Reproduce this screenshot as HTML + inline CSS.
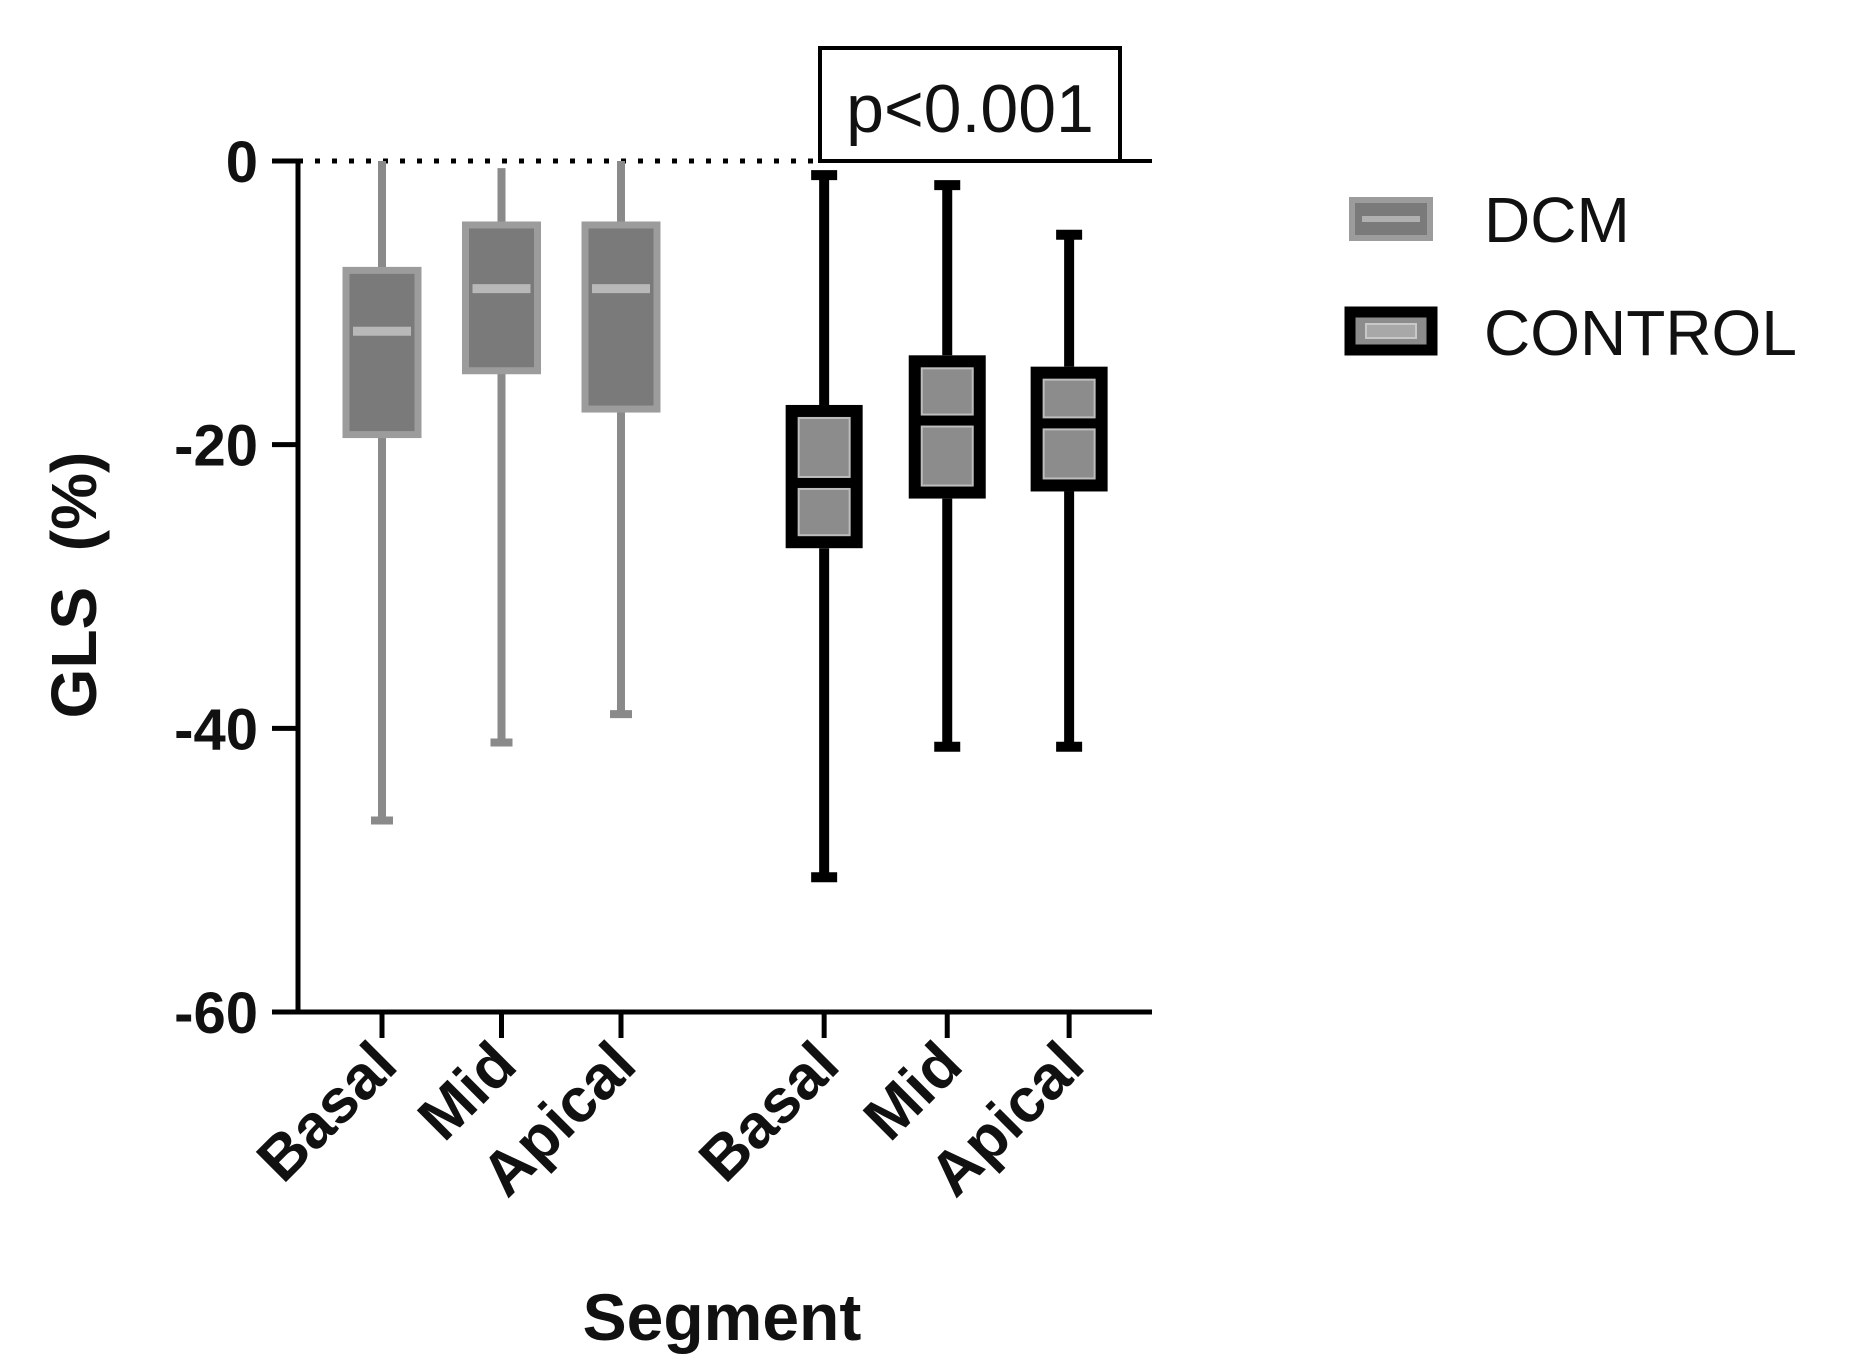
<!DOCTYPE html>
<html><head><meta charset="utf-8"><style>
html,body{margin:0;padding:0;background:#fff;}
svg{display:block;font-family:"Liberation Sans",Arial,sans-serif;}
</style></head><body>
<svg id="chart" width="1862" height="1363" viewBox="0 0 1862 1363" xmlns="http://www.w3.org/2000/svg"></svg>
<script>
const categories = ["Basal","Mid","Apical","Basal","Mid","Apical"];
const groups = ["DCM","DCM","DCM","CONTROL","CONTROL","CONTROL"];
const whiskerMax = [0, -0.5, 0, -1, -1.7, -5.2];
const q3 = [-7.5, -4.3, -4.3, -17.2, -13.7, -14.5];
const median = [-12, -9, -9, -22.7, -18.3, -18.5];
const q1 = [-19.5, -15, -17.7, -27.3, -23.8, -23.3];
const whiskerMin = [-46.5, -41, -39, -50.5, -41.3, -41.3];
const yTicks = [0, -20, -40, -60];
const slotIndex = [0, 1, 2, 3.7, 4.73, 5.75];

const svg = document.getElementById('chart');
const NS = 'http://www.w3.org/2000/svg';
const x0 = 298, yTop = 161, yBot = 1012;
const yScale = v => yTop + (0 - v) / 60 * (yBot - yTop);
const xScale = i => 382 + i * 119.5;

function mk(tag, attrs, parent) {
  const e = document.createElementNS(NS, tag);
  for (const k in attrs) e.setAttribute(k, attrs[k]);
  (parent || svg).appendChild(e);
  return e;
}

const zl = mk('line', {x1: x0, y1: yTop, x2: 818, y2: yTop, stroke: '#000', 'stroke-width': 5, 'stroke-dasharray': '5 12'});


const zl2 = mk('line', {x1: 1118, y1: yTop, x2: 1152, y2: yTop, stroke: '#000', 'stroke-width': 4});



const ya = mk('line', {x1: x0, y1: yTop - 2, x2: x0, y2: yBot + 2, stroke: '#000', 'stroke-width': 5});


const xa = mk('line', {x1: x0 - 2, y1: yBot, x2: 1152, y2: yBot, stroke: '#000', 'stroke-width': 5});



yTicks.forEach(t => {
  const y = yScale(t);
  const tk = mk('line', {x1: x0 - 26, y1: y, x2: x0, y2: y, stroke: '#000', 'stroke-width': 5});
  
  
  const tl = mk('text', {x: x0 - 40, y: y + 21, 'text-anchor': 'end', 'font-size': 58, 'font-weight': 'bold', fill: '#111'});
  tl.textContent = t;
  
  
});

const yt = mk('text', {x: 0, y: 0, transform: 'translate(96,585) rotate(-90)', 'text-anchor': 'middle', 'font-size': 64, 'font-weight': 'bold', fill: '#111'});
yt.textContent = 'GLS\u00a0\u00a0(%)';



categories.forEach((c, i) => {
  const cx = xScale(slotIndex[i]);
  const isC = groups[i] === 'CONTROL';
  const g = mk('g', {});
  
  
  const w = isC ? 77 : 78;
  const wc = isC ? '#000' : '#8a8a8a';
  const ww = isC ? 10 : 8;
  mk('line', {x1: cx, y1: yScale(whiskerMax[i]), x2: cx, y2: yScale(q3[i]), stroke: wc, 'stroke-width': ww}, g);
  mk('line', {x1: cx, y1: yScale(q1[i]), x2: cx, y2: yScale(whiskerMin[i]), stroke: wc, 'stroke-width': ww}, g);
  const capW = isC ? 26 : 22;
  mk('line', {x1: cx - capW / 2, y1: yScale(whiskerMin[i]), x2: cx + capW / 2, y2: yScale(whiskerMin[i]), stroke: wc, 'stroke-width': ww}, g);
  if (isC) mk('line', {x1: cx - capW / 2, y1: yScale(whiskerMax[i]), x2: cx + capW / 2, y2: yScale(whiskerMax[i]), stroke: wc, 'stroke-width': ww}, g);
  const yt3 = yScale(q3[i]), yb1 = yScale(q1[i]), ym = yScale(median[i]);
  if (isC) {
    mk('rect', {x: cx - w / 2 + 6, y: yt3 + 6, width: w - 12, height: yb1 - yt3 - 12, fill: '#000', stroke: '#000', 'stroke-width': 12}, g);
    mk('rect', {x: cx - w / 2 + 13, y: yt3 + 13, width: w - 26, height: ym - yt3 - 19, fill: '#8c8c8c', stroke: '#bdbdbd', 'stroke-width': 2}, g);
    mk('rect', {x: cx - w / 2 + 13, y: ym + 6, width: w - 26, height: yb1 - ym - 19, fill: '#8c8c8c', stroke: '#bdbdbd', 'stroke-width': 2}, g);
  } else {
    mk('rect', {x: cx - w / 2 + 3, y: yt3 + 3, width: w - 6, height: yb1 - yt3 - 6, fill: '#7a7a7a', stroke: '#9c9c9c', 'stroke-width': 7}, g);
    mk('line', {x1: cx - w / 2 + 10, y1: ym, x2: cx + w / 2 - 10, y2: ym, stroke: '#b8b8b8', 'stroke-width': 9}, g);
  }
  const tk = mk('line', {x1: cx, y1: yBot, x2: cx, y2: yBot + 26, stroke: '#000', 'stroke-width': 5});
  
  
  const lb = mk('text', {x: 0, y: 0, transform: 'translate(' + (cx + 18) + ',' + (yBot + 56) + ') rotate(-45)', 'text-anchor': 'end', 'font-size': 62, 'font-weight': 'bold', fill: '#111'});
  lb.textContent = c;
  
  
});

const xt = mk('text', {x: 722, y: 1340, 'text-anchor': 'middle', 'font-size': 66, 'font-weight': 'bold', fill: '#111'});
xt.textContent = 'Segment';



const pg = mk('g', {});


mk('rect', {x: 820, y: 48, width: 300, height: 113, fill: '#fff', stroke: '#000', 'stroke-width': 4}, pg);
const pt = mk('text', {x: 970, y: 132, 'text-anchor': 'middle', 'font-size': 68, fill: '#111'}, pg);
pt.textContent = 'p<0.001';

const lg1 = mk('g', {});


mk('rect', {x: 1352, y: 200, width: 78, height: 38, fill: '#7a7a7a', stroke: '#9c9c9c', 'stroke-width': 6}, lg1);
mk('line', {x1: 1362, y1: 219, x2: 1420, y2: 219, stroke: '#b0b0b0', 'stroke-width': 6}, lg1);
const t1 = mk('text', {x: 1484, y: 242, 'font-size': 64, fill: '#111'}, lg1);
t1.textContent = 'DCM';
const lg2 = mk('g', {});


mk('rect', {x: 1350, y: 312, width: 82, height: 38, fill: '#8c8c8c', stroke: '#000', 'stroke-width': 11}, lg2);
mk('rect', {x: 1366, y: 324, width: 50, height: 14, fill: '#a8a8a8', stroke: '#c8c8c8', 'stroke-width': 2}, lg2);
const t2 = mk('text', {x: 1484, y: 355, 'font-size': 64, fill: '#111'}, lg2);
t2.textContent = 'CONTROL';
</script>
</body></html>
